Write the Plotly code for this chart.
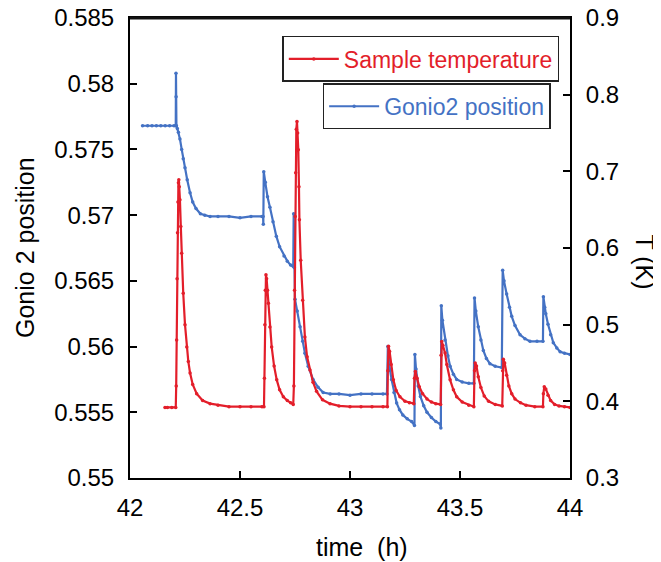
import plotly.graph_objects as go

# ---------------- data ----------------
gonio_time = [
    42.057, 42.08, 42.10, 42.12, 42.14, 42.16, 42.18, 42.20, 42.208,
    42.209, 42.2095, 42.211,
    42.215, 42.22, 42.227, 42.235, 42.242, 42.25, 42.26, 42.273, 42.285,
    42.30, 42.32, 42.34, 42.364, 42.40, 42.45, 42.50, 42.55, 42.60, 42.605,
    42.606, 42.608,
    42.615, 42.625, 42.636, 42.65, 42.665, 42.68, 42.70, 42.715, 42.73, 42.742,
    42.744, 42.747, 42.750,
    42.76, 42.773, 42.785, 42.795, 42.81, 42.832, 42.855, 42.878, 42.91,
    42.95, 43.0, 43.05, 43.1, 43.15, 43.168,
    43.172, 43.176, 43.182, 43.189, 43.20, 43.212, 43.225, 43.24, 43.26,
    43.28, 43.293,
    43.295, 43.30, 43.31, 43.32, 43.335, 43.35, 43.37, 43.39, 43.41,
    43.413, 43.415, 43.42, 43.432, 43.445, 43.455, 43.47, 43.485, 43.51,
    43.54, 43.563,
    43.566, 43.572, 43.583, 43.595, 43.606, 43.62, 43.636, 43.66, 43.69,
    43.694, 43.70, 43.712, 43.725, 43.735, 43.75, 43.773, 43.795, 43.818,
    43.85, 43.877,
    43.879, 43.885, 43.89, 43.90, 43.912, 43.924, 43.94, 43.955, 43.975, 44.0,
]
gonio_pos = [
    0.5768, 0.5768, 0.5768, 0.5768, 0.5768, 0.5768, 0.5768, 0.5768, 0.5768,
    0.5808, 0.5790, 0.5768,
    0.5766, 0.5763, 0.5758, 0.5750, 0.5743, 0.5736, 0.5727, 0.5717, 0.5710,
    0.5705, 0.5701, 0.5700, 0.5699, 0.5699, 0.5699, 0.5698, 0.5699, 0.5699, 0.5699,
    0.5693, 0.5733,
    0.5725, 0.5714, 0.5706, 0.5695, 0.5684, 0.5676, 0.5669, 0.5665, 0.5662, 0.5661,
    0.5701, 0.5660, 0.5636,
    0.5627, 0.5615, 0.5604, 0.5595, 0.5585, 0.5575, 0.5569, 0.5565, 0.5564,
    0.5564, 0.5563, 0.5564, 0.5564, 0.5564, 0.5564,
    0.5600, 0.5592, 0.5582, 0.5575, 0.5565, 0.5557, 0.5552, 0.5548, 0.5545,
    0.5543, 0.5540,
    0.5594, 0.5583, 0.5570, 0.5562, 0.5555, 0.5550, 0.5546, 0.5543, 0.5541,
    0.5538, 0.5631, 0.5620, 0.5605, 0.5593, 0.5585, 0.5579, 0.5575, 0.5573,
    0.5572, 0.5572,
    0.5637, 0.5627, 0.5615, 0.5605, 0.5597, 0.5591, 0.5587, 0.5585, 0.5584,
    0.5658, 0.5650, 0.5640, 0.5630, 0.5623, 0.5616, 0.5609, 0.5606, 0.5604,
    0.5604, 0.5604,
    0.5638, 0.5630, 0.5625, 0.5617, 0.5609, 0.5603, 0.5599, 0.5596, 0.5595, 0.5594,
]

temp_time = [
    42.159, 42.17, 42.19, 42.208,
    42.210, 42.212, 42.214, 42.216, 42.218, 42.220, 42.222, 42.224, 42.227,
    42.231, 42.235, 42.242, 42.25, 42.258, 42.265, 42.273, 42.285, 42.303,
    42.33, 42.364, 42.40, 42.45, 42.50, 42.55, 42.60, 42.609,
    42.611, 42.613, 42.615, 42.618, 42.621, 42.625, 42.629, 42.636, 42.644,
    42.655, 42.667, 42.68, 42.697, 42.715, 42.73, 42.742,
    42.745, 42.748, 42.751, 42.753, 42.756, 42.759, 42.762, 42.765, 42.768,
    42.770, 42.776, 42.785, 42.795, 42.805, 42.818, 42.832, 42.848, 42.875,
    42.909, 42.95, 43.0, 43.05, 43.1, 43.15, 43.170,
    43.172, 43.175, 43.180, 43.187, 43.197, 43.21, 43.227, 43.25, 43.27, 43.29,
    43.293, 43.297, 43.305, 43.315, 43.33, 43.35, 43.37, 43.39, 43.412,
    43.414, 43.417, 43.422, 43.432, 43.44, 43.455, 43.47, 43.485, 43.51,
    43.54, 43.563,
    43.566, 43.569, 43.575, 43.583, 43.595, 43.61, 43.63, 43.66, 43.692,
    43.694, 43.697, 43.703, 43.712, 43.722, 43.735, 43.75, 43.775, 43.80,
    43.84, 43.877,
    43.879, 43.883, 43.89, 43.90, 43.912, 43.93, 43.95, 43.975, 44.0,
]
temp_val = [
    0.392, 0.392, 0.392, 0.392,
    0.420, 0.480, 0.560, 0.620, 0.660, 0.685, 0.689, 0.680, 0.663,
    0.628, 0.593, 0.541, 0.500, 0.471, 0.452, 0.437, 0.422, 0.410,
    0.401, 0.397, 0.395, 0.393, 0.393, 0.393, 0.393, 0.393,
    0.430, 0.500, 0.545, 0.565, 0.560, 0.545, 0.528, 0.497, 0.471,
    0.446, 0.428, 0.415, 0.406, 0.401, 0.398, 0.396,
    0.420, 0.545, 0.641, 0.698, 0.755, 0.765, 0.750, 0.728, 0.680,
    0.637, 0.584, 0.532, 0.484, 0.458, 0.441, 0.425, 0.413, 0.402,
    0.397, 0.394, 0.393, 0.393, 0.393, 0.393, 0.393,
    0.440, 0.472, 0.465, 0.448, 0.428, 0.414, 0.406, 0.400, 0.398, 0.397,
    0.430, 0.439, 0.430, 0.419, 0.410, 0.403, 0.399, 0.397, 0.396,
    0.460, 0.478, 0.473, 0.463, 0.448, 0.428, 0.415, 0.406, 0.399,
    0.395, 0.393,
    0.440, 0.450, 0.446, 0.432, 0.418, 0.407, 0.400, 0.396, 0.394,
    0.440, 0.455, 0.450, 0.434, 0.420, 0.410, 0.403, 0.398, 0.395,
    0.393, 0.393,
    0.410, 0.419, 0.416, 0.408, 0.401, 0.396, 0.394, 0.393, 0.392,
]

x_ticks = [42, 42.5, 43, 43.5, 44]
x_labels = ["42", "42.5", "43", "43.5", "44"]
y1_ticks = [0.55, 0.555, 0.56, 0.565, 0.57, 0.575, 0.58, 0.585]
y1_labels = ["0.55", "0.555", "0.56", "0.565", "0.57", "0.575", "0.58", "0.585"]
y2_ticks = [0.3, 0.4, 0.5, 0.6, 0.7, 0.8, 0.9]
y2_labels = ["0.3", "0.4", "0.5", "0.6", "0.7", "0.8", "0.9"]

RED = "#E31E2A"
BLUE = "#4472C4"
FONT = "Arial, Liberation Sans, sans-serif"

fig = go.Figure()
fig.add_trace(go.Scatter(
    x=temp_time, y=temp_val, name="Sample temperature", yaxis="y2",
    mode="lines+markers", line=dict(color=RED, width=2.2),
    marker=dict(color=RED, size=3.5), legend="legend",
))
fig.add_trace(go.Scatter(
    x=gonio_time, y=gonio_pos, name="Gonio2 position", yaxis="y",
    mode="lines+markers", line=dict(color=BLUE, width=2.2),
    marker=dict(color=BLUE, size=3.5), legend="legend2",
))

axis_common = dict(
    showgrid=False, zeroline=False, showline=True, linecolor="black",
    linewidth=2, ticks="inside", ticklen=7, tickwidth=1.5, tickcolor="black",
    ticklabeloverflow="allow", automargin=False,
    tickfont=dict(family=FONT, size=24, color="black"),
)

# the page body adds an 8px margin, so the figure is 8px smaller than the window
fig.update_layout(
    width=653, height=554,
    margin=dict(l=122, r=91, t=10, b=84),
    paper_bgcolor="white", plot_bgcolor="white",
    font=dict(family=FONT, color="black"),
    xaxis=dict(range=[42, 44], tickvals=x_ticks, ticktext=x_labels,
               mirror=True, ticklabelstandoff=7, **axis_common),
    yaxis=dict(range=[0.55, 0.585], tickvals=y1_ticks, ticktext=y1_labels,
               ticklabelstandoff=9, **axis_common),
    yaxis2=dict(range=[0.3, 0.9], tickvals=y2_ticks, ticktext=y2_labels,
                overlaying="y", side="right", ticklabelstandoff=9, **axis_common),
    shapes=[dict(type="line", xref="paper", yref="paper", x0=0, x1=1, y0=1, y1=1,
                 line=dict(color="#111111", width=3), layer="above")],
    legend=dict(x=0.9757, y=0.961, xanchor="right", yanchor="top",
                bgcolor="white", bordercolor="#222", borderwidth=1.5,
                itemwidth=50,
                font=dict(family=FONT, size=23, color=RED)),
    legend2=dict(x=0.956, y=0.858, xanchor="right", yanchor="top",
                 bgcolor="white", bordercolor="#222", borderwidth=1.5,
                 itemwidth=50,
                 font=dict(family=FONT, size=23, color=BLUE)),
    annotations=[
        dict(text="time\u00a0 (h)", xref="paper", yref="paper", x=0.5266, y=-0.15,
             showarrow=False, font=dict(family=FONT, size=25, color="black"),
             xanchor="center", yanchor="middle"),
        dict(text="Gonio 2 position", xref="paper", yref="paper", x=-0.2386, y=0.5,
             textangle=-90, showarrow=False,
             font=dict(family=FONT, size=25, color="black"),
             xanchor="center", yanchor="middle"),
        dict(text="T (K)", xref="paper", yref="paper", x=1.17, y=0.469,
             textangle=90, showarrow=False,
             font=dict(family=FONT, size=25, color="black"),
             xanchor="center", yanchor="middle"),
    ],
    showlegend=True,
)

fig.write_html("out.html")
